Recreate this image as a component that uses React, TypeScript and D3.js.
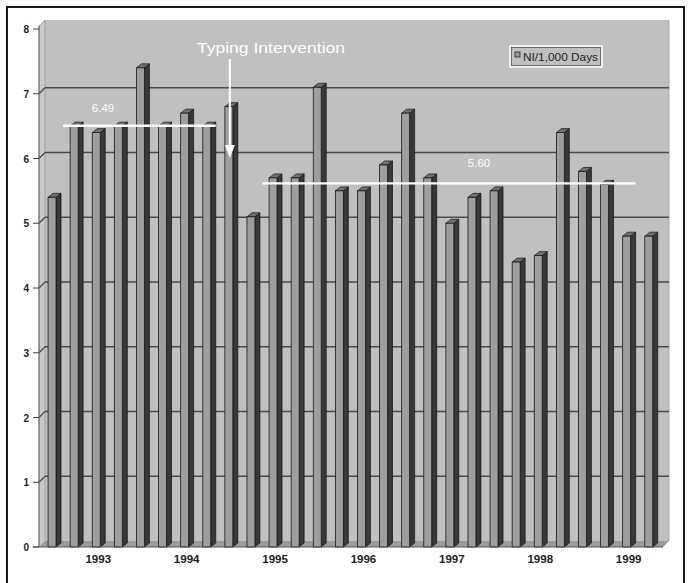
import React from "react";
import * as d3 from "d3";

const years = [1993, 1994, 1995, 1996, 1997, 1998, 1999];
const quarters = ["Q1", "Q2", "Q3", "Q4"];
const categories = years.flatMap((yr) => quarters.map((q) => `${yr} ${q}`));
const values = [
  5.4, 6.5, 6.4, 6.5, 7.4, 6.5, 6.7, 6.5,
  6.8, 5.1, 5.7, 5.7, 7.1, 5.5, 5.5, 5.9,
  6.7, 5.7, 5.0, 5.4, 5.5, 4.4, 4.5, 6.4,
  5.8, 5.6, 4.8, 4.8,
];
const yTicks = [0, 1, 2, 3, 4, 5, 6, 7, 8];
const seriesName = "NI/1,000 Days";
const annotationText = "Typing Intervention";
const annotationIndex = 8;
const refLines = [
  { value: 6.49, label: "6.49", from: 1, to: 7 },
  { value: 5.6, label: "5.60", from: 10, to: 26 },
];

const W = 689;
const H = 583;
const DX = 6;
const DY = -6;
const BDX = 5;
const BDY = -4;

export default function App() {
  const y = d3.scaleLinear().domain([0, 8]).range([547, 29]);
  const x = d3
    .scaleBand<string>()
    .domain(categories)
    .range([41, 659.8])
    .paddingInner(0.64)
    .paddingOuter(0.32);
  const bw = x.bandwidth();
  const step = x.step();
  const left = 39;
  const right = 663;
  const base = y(0);
  const top = 20;

  return (
    <svg
      width={W}
      height={H}
      style={{ position: "absolute", left: 0, top: 0, background: "#fff" }}
      fontFamily="Arial, 'Liberation Sans', sans-serif"
    >
      <rect x={7} y={7} width={677} height={600} fill="#fff" stroke="#000" strokeWidth={1.8} />
      {/* back wall */}
      <rect x={left + DX} y={top} width={right - left} height={base + DY - top} fill="#c0c0c0" />
      <line x1={right + DX} x2={right + DX} y1={top} y2={base + DY} stroke="#a8a8a8" strokeWidth={1} />
      {/* side wall */}
      <polygon
        points={`${left},${base} ${left + DX},${base + DY} ${left + DX},${top} ${left},${top - DY}`}
        fill="#c9c9c9"
        stroke="#9a9a9a"
        strokeWidth={0.8}
      />
      {/* floor */}
      <polygon
        points={`${left},${base} ${right},${base} ${right + DX},${base + DY} ${left + DX},${base + DY}`}
        fill="#9c9c9c"
      />
      {/* gridlines */}
      {yTicks
        .filter((t) => t > 0 && t < 8)
        .map((t) => (
          <g key={t}>
            <line x1={left} y1={y(t)} x2={left + DX} y2={y(t) + DY} stroke="#4a4a4a" strokeWidth={1.3} />
            <line x1={left + DX} y1={y(t) + DY} x2={right + DX} y2={y(t) + DY} stroke="#4a4a4a" strokeWidth={1.3} />
          </g>
        ))}
      {/* bars */}
      {values.map((v, i) => {
        const x0 = x(categories[i])!;
        const yv = y(v);
        return (
          <g key={i}>
            <polygon
              points={`${x0 + bw},${yv} ${x0 + bw + BDX},${yv + BDY} ${x0 + bw + BDX},${base + BDY} ${x0 + bw},${base}`}
              fill="#383838"
              stroke="#111"
              strokeWidth={0.7}
            />
            <polygon
              points={`${x0},${yv} ${x0 + BDX},${yv + BDY} ${x0 + bw + BDX},${yv + BDY} ${x0 + bw},${yv}`}
              fill="#707070"
              stroke="#111"
              strokeWidth={0.7}
            />
            <rect x={x0} y={yv} width={bw} height={base - yv} fill="#9e9e9e" stroke="#1a1a1a" strokeWidth={0.8} />
          </g>
        );
      })}
      {/* axes */}
      <line x1={left} y1={top - DY} x2={left} y2={base} stroke="#666" strokeWidth={1} />
      <line x1={left - 6} y1={base} x2={right} y2={base} stroke="#555" strokeWidth={1.2} />
      {yTicks.map((t) => (
        <g key={t}>
          <line x1={left - 6} x2={left} y1={y(t)} y2={y(t)} stroke="#444" strokeWidth={1} />
          <text x={left - 10} y={y(t) + 4} textAnchor="end" fontSize={10} fontWeight="bold" fill="#222">
            {t}
          </text>
        </g>
      ))}
      {years.map((yr, k) => {
        const c = categories[k * 4 + 2];
        return (
          <text
            key={yr}
            x={x(c)! + bw / 2 + 2}
            y={563}
            textAnchor="middle"
            fontSize={11.5}
            fontWeight="bold"
            fill="#222"
          >
            {yr}
          </text>
        );
      })}
      {/* reference lines */}
      {refLines.map((r) => {
        const x1 = x(categories[r.from])! - (step - bw) / 2;
        const x2 = x(categories[r.to])! + bw + 5;
        const yy = y(r.value) - 1;
        return (
          <g key={r.label}>
            <line x1={x1} x2={x2} y1={yy} y2={yy} stroke="#fff" strokeWidth={2.4} />
          </g>
        );
      })}
      <text x={103} y={112} textAnchor="middle" fontSize={11.5} fill="#fff">
        {refLines[0].label}
      </text>
      <text x={479} y={167} textAnchor="middle" fontSize={11.5} fill="#fff">
        {refLines[1].label}
      </text>
      {/* annotation */}
      {(() => {
        const ax = x(categories[annotationIndex])! + bw / 2 + 1;
        return (
          <g>
            <text x={271} y={53} textAnchor="middle" fontSize={14} fill="#fff" textLength={148} lengthAdjust="spacingAndGlyphs">
              {annotationText}
            </text>
            <line x1={ax} x2={ax} y1={59} y2={148} stroke="#fff" strokeWidth={2} />
            <polygon points={`${ax - 5},${145} ${ax + 5},${145} ${ax},${158}`} fill="#fff" />
          </g>
        );
      })()}
      {/* legend */}
      <rect x={510} y={46} width={92} height={21} fill="#c0c0c0" stroke="#fff" strokeWidth={1.5} />
      <rect x={511.5} y={47.5} width={89} height={18} fill="none" stroke="#333" strokeWidth={0.6} />
      <rect x={515} y={52} width={5} height={5} fill="#999" stroke="#222" strokeWidth={0.8} />
      <text x={523} y={61} fontSize={10} fill="#222" textLength={75} lengthAdjust="spacingAndGlyphs">
        {seriesName}
      </text>
    </svg>
  );
}
